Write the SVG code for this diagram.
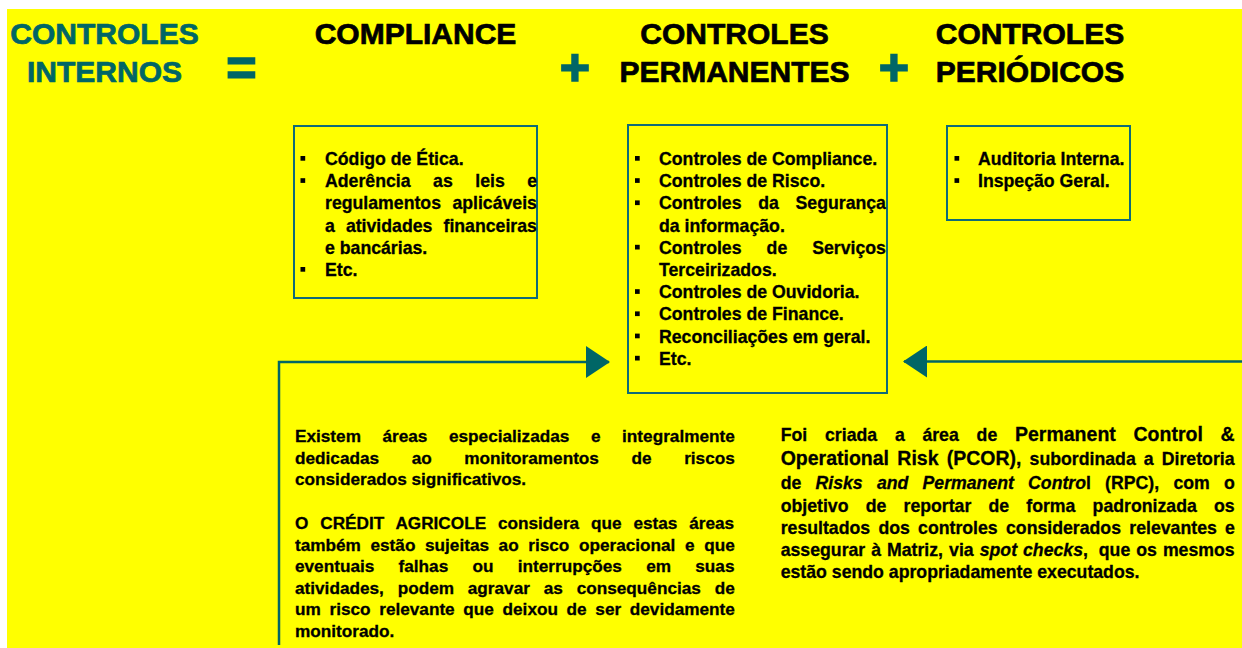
<svg xmlns="http://www.w3.org/2000/svg" width="1242" height="648" viewBox="0 0 1242 648">
<style>
text{font-family:"Liberation Sans",Arial,sans-serif;font-weight:bold;fill:#000;stroke:#000;stroke-width:0.3}
.h{font-size:30px;stroke-width:0.7}
.ht{font-size:30px;fill:#006666;stroke:#006666;stroke-width:0.7}
.op{font-size:52px;fill:#006666;stroke:#006666;stroke-width:1.6}
.b{font-size:17.7px}
.p{font-size:17.2px}
.big{font-size:19.5px}
.it{font-style:italic}
.box{fill:#ffff00;stroke:#0f6b78;stroke-width:2}
.bul{fill:#000}
.con{fill:none;stroke:#006666;stroke-width:2.5}
</style>
<defs>
<marker id="ah" markerUnits="userSpaceOnUse" markerWidth="24" markerHeight="32" viewBox="0 0 24 32" refX="23" refY="16" orient="auto"><path d="M0,0 L24,16 L0,32 Z" fill="#006666"/></marker>
</defs>
<rect x="0" y="0" width="1242" height="648" fill="#ffffff"/>
<rect x="7" y="9" width="1235" height="639" fill="#ffff00"/>

<g id="header">
<text class="ht" x="104.5" y="44" text-anchor="middle">CONTROLES</text>
<text class="ht" x="104.5" y="81.7" text-anchor="middle">INTERNOS</text>
<text class="op" x="241.5" y="85" text-anchor="middle">=</text>
<text class="h" x="415.5" y="44" text-anchor="middle">COMPLIANCE</text>
<text class="op" x="575" y="85" text-anchor="middle">+</text>
<text class="h" x="734.5" y="44" text-anchor="middle">CONTROLES</text>
<text class="h" x="734.5" y="81.7" text-anchor="middle">PERMANENTES</text>
<text class="op" x="894" y="85" text-anchor="middle">+</text>
<text class="h" x="1030" y="44" text-anchor="middle">CONTROLES</text>
<text class="h" x="1030" y="81.7" text-anchor="middle">PERIÓDICOS</text>
</g>

<g id="connectors">
<path class="con" d="M279,645 V362 H609" marker-end="url(#ah)"/>
<path class="con" d="M1242,361.5 H904" marker-end="url(#ah)"/>
</g>

<g id="box-compliance">
<rect class="box" x="294" y="126" width="243" height="172"/>
<rect class="bul" x="300.5" y="156" width="4.7" height="4.7"/>
<rect class="bul" x="300.5" y="178.2" width="4.7" height="4.7"/>
<rect class="bul" x="300.5" y="267" width="4.7" height="4.7"/>
<text class="b" x="325" y="165">Código de Ética.</text>
<text class="b" y="187.2"><tspan x="325">Aderência</tspan><tspan x="433.1">as</tspan><tspan x="475.3">leis</tspan><tspan x="527.3">e</tspan></text>
<text class="b" y="209.4"><tspan x="325">regulamentos</tspan><tspan x="452.4">aplicáveis</tspan></text>
<text class="b" y="231.6"><tspan x="325">a</tspan><tspan x="345.9">atividades</tspan><tspan x="443.5">financeiras</tspan></text>
<text class="b" x="325" y="253.8">e bancárias.</text>
<text class="b" x="325" y="276">Etc.</text>
</g>

<g id="box-permanentes">
<rect class="box" x="628" y="125" width="259" height="268"/>
<rect class="bul" x="635" y="156" width="4.7" height="4.7"/>
<rect class="bul" x="635" y="178.2" width="4.7" height="4.7"/>
<rect class="bul" x="635" y="200.4" width="4.7" height="4.7"/>
<rect class="bul" x="635" y="244.8" width="4.7" height="4.7"/>
<rect class="bul" x="635" y="289.2" width="4.7" height="4.7"/>
<rect class="bul" x="635" y="311.4" width="4.7" height="4.7"/>
<rect class="bul" x="635" y="333.6" width="4.7" height="4.7"/>
<rect class="bul" x="635" y="355.8" width="4.7" height="4.7"/>
<text class="b" x="659" y="165">Controles de Compliance.</text>
<text class="b" x="659" y="187.2">Controles de Risco.</text>
<text class="b" y="209.4"><tspan x="659">Controles</tspan><tspan x="758.2">da</tspan><tspan x="795.5">Segurança</tspan></text>
<text class="b" x="659" y="231.6">da informação.</text>
<text class="b" y="253.8"><tspan x="659">Controles</tspan><tspan x="766.6">de</tspan><tspan x="812.2">Serviços</tspan></text>
<text class="b" x="659" y="276">Terceirizados.</text>
<text class="b" x="659" y="298.2">Controles de Ouvidoria.</text>
<text class="b" x="659" y="320.4">Controles de Finance.</text>
<text class="b" x="659" y="342.6">Reconciliações em geral.</text>
<text class="b" x="659" y="364.8">Etc.</text>
</g>

<g id="box-periodicos">
<rect class="box" x="947" y="126" width="183" height="94"/>
<rect class="bul" x="954.5" y="156" width="4.7" height="4.7"/>
<rect class="bul" x="954.5" y="178.2" width="4.7" height="4.7"/>
<text class="b" x="978" y="165">Auditoria Interna.</text>
<text class="b" x="978" y="187.2">Inspeção Geral.</text>
</g>

<g id="text-areas">
<text class="p" y="442" word-spacing="16.8"><tspan x="295">Existem áreas especializadas e integralmente</tspan></text>
<text class="p" y="463.5" word-spacing="27.8"><tspan x="295">dedicadas ao monitoramentos de riscos</tspan></text>
<text class="p" x="295" y="485">considerados significativos.</text>
<text class="p" y="529" word-spacing="7.07"><tspan x="295">O CRÉDIT AGRICOLE considera que estas áreas</tspan></text>
<text class="p" y="550.6" word-spacing="4.82"><tspan x="295">também estão sujeitas ao risco operacional e que</tspan></text>
<text class="p" y="572.2" word-spacing="19.5"><tspan x="295">eventuais falhas ou interrupções em suas</tspan></text>
<text class="p" y="593.8" word-spacing="9.04"><tspan x="295">atividades, podem agravar as consequências de</tspan></text>
<text class="p" y="615.4" word-spacing="3.89"><tspan x="295">um risco relevante que deixou de ser devidamente</tspan></text>
<text class="p" x="295" y="637">monitorado.</text>
</g>

<g id="text-pcor">
<text class="b" y="441"><tspan x="780.7">Foi</tspan><tspan x="825">criada</tspan><tspan x="894.9">a</tspan><tspan x="922.4">área</tspan><tspan x="976.6">de</tspan><tspan class="big" x="1015">Permanent</tspan><tspan class="big" x="1133.5">Control</tspan><tspan class="big" x="1220.6">&amp;</tspan></text>
<text class="b" y="465"><tspan class="big" x="780.7">Operational</tspan><tspan class="big" x="897.3">Risk</tspan><tspan class="big" x="946.7">(PCOR),</tspan><tspan x="1029.6">subordinada</tspan><tspan x="1143.8">a</tspan><tspan x="1161.8">Diretoria</tspan></text>
<text class="b" y="489"><tspan x="780.7">de</tspan><tspan class="it" x="815.5">Risks</tspan><tspan class="it" x="876.9">and</tspan><tspan class="it" x="922.5">Permanent</tspan><tspan x="1028.1"><tspan class="it">Contro</tspan>l</tspan><tspan x="1105.1">(RPC),</tspan><tspan x="1173.4">com</tspan><tspan x="1223.9">o</tspan></text>
<text class="b" y="512"><tspan x="780.7">objetivo</tspan><tspan x="865.7">de</tspan><tspan x="903.5">reportar</tspan><tspan x="988.5">de</tspan><tspan x="1026.3">forma</tspan><tspan x="1092.6">padronizada</tspan><tspan x="1214">os</tspan></text>
<text class="b" y="534"><tspan x="780.7">resultados</tspan><tspan x="878.4">dos</tspan><tspan x="918.1">controles</tspan><tspan x="1006">considerados</tspan><tspan x="1129.3">relevantes</tspan><tspan x="1225">e</tspan></text>
<text class="b" y="556"><tspan x="780.7">assegurar</tspan><tspan x="871.3">à</tspan><tspan x="887">Matriz,</tspan><tspan x="949.1">via</tspan><tspan class="it" x="979.7">spot</tspan><tspan x="1023"><tspan class="it">checks</tspan>,</tspan><tspan x="1098.8">que</tspan><tspan x="1136.2">os</tspan><tspan x="1162.9">mesmos</tspan></text>
<text class="b" x="780.7" y="578">estão sendo apropriadamente executados.</text>
</g>
</svg>
